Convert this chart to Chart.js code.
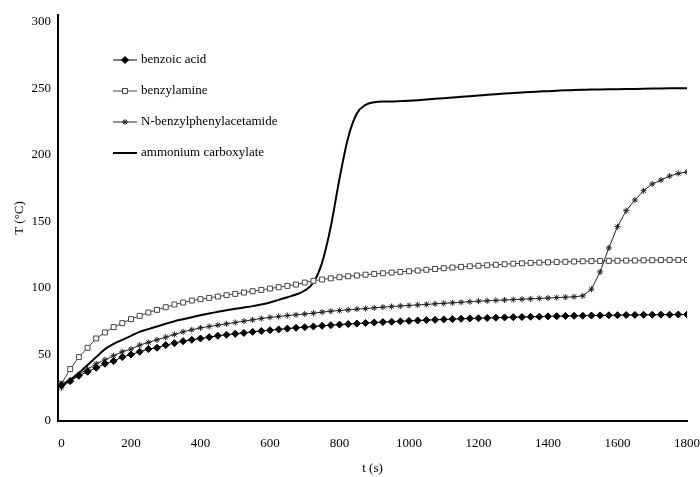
<!DOCTYPE html>
<html>
<head>
<meta charset="utf-8">
<script src="https://cdn.jsdelivr.net/npm/chart.js@4.4.0/dist/chart.umd.min.js"></script>
<style>
  html, body { margin: 0; padding: 0; background: #fff; }
  #wrap { width: 700px; height: 477px; position: relative; }
</style>
</head>
<body>
<div id="wrap"><canvas id="tempChart"></canvas></div>
<script>
// --- Data ---
const times = [
    0, 25, 50, 75, 100, 125, 150, 175,
    200, 225, 250, 275, 300, 325, 350, 375,
    400, 425, 450, 475, 500, 525, 550, 575,
    600, 625, 650, 675, 700, 725, 750, 775,
    800, 825, 850, 875, 900, 925, 950, 975,
    1000, 1025, 1050, 1075, 1100, 1125, 1150, 1175,
    1200, 1225, 1250, 1275, 1300, 1325, 1350, 1375,
    1400, 1425, 1450, 1475, 1500, 1525, 1550, 1575,
    1600, 1625, 1650, 1675, 1700, 1725, 1750, 1775,
    1800
];

const benzoicAcid = [
    27, 30, 34, 37, 40, 43, 45, 48,
    50, 52, 54, 55, 57, 58.5, 60, 61,
    62, 63, 64, 64.8, 65.5, 66.2, 67, 67.6,
    68.2, 68.8, 69.4, 70, 70.5, 71, 71.5, 72,
    72.4, 72.8, 73.2, 73.6, 74, 74.3, 74.6, 74.9,
    75.2, 75.5, 75.8, 76, 76.3, 76.5, 76.8, 77,
    77.2, 77.4, 77.6, 77.8, 78, 78.1, 78.3, 78.4,
    78.6, 78.7, 78.9, 79, 79.1, 79.2, 79.3, 79.4,
    79.5, 79.6, 79.7, 79.8, 79.8, 79.9, 79.9, 80,
    80
];

const benzylamine = [
    28, 39, 48, 55, 62, 66.5, 70.5, 73.5,
    76.5, 79, 81.5, 83.5, 85.5, 87.5, 89, 90.5,
    91.5, 92.5, 93.5, 94.5, 95.5, 96.5, 97.5, 98.5,
    99.5, 100.5, 101.5, 102.5, 104, 105.3, 106.3, 107.2,
    108, 108.7, 109.3, 109.9, 110.5, 111, 111.5, 112,
    112.5, 113, 113.6, 114.2, 114.8, 115.3, 115.8, 116.2,
    116.6, 117, 117.4, 117.8, 118.2, 118.5, 118.8, 119,
    119.2, 119.4, 119.6, 119.8, 120, 120.1, 120.2, 120.3,
    120.4, 120.5, 120.6, 120.7, 120.8, 120.9, 121, 121,
    121
];

const benzylphenylacetamide = [
    25, 30, 35, 39, 43, 46, 49, 52,
    54, 57, 59, 61, 63, 65, 67, 68.5,
    70, 71, 72, 73, 74, 75, 76, 77,
    77.8, 78.5, 79.2, 79.8, 80.4, 81, 81.8, 82.5,
    83, 83.5, 84, 84.5, 85, 85.5, 86, 86.4,
    86.8, 87.2, 87.6, 88, 88.4, 88.8, 89.2, 89.6,
    90, 90.3, 90.6, 90.9, 91.2, 91.5, 91.8, 92.1,
    92.4, 92.7, 93, 93.3, 94, 99, 112, 130,
    146, 158, 166, 173, 178, 181, 184, 186,
    187
];

const ammoniumCarboxylate = [
    27, 31, 36, 42, 48, 54, 58, 61,
    64, 67, 69, 71, 73, 75, 76.5, 78,
    79.5, 80.8, 82, 83.2, 84.3, 85.3, 86.3, 87.5,
    89, 91, 93, 95, 98, 104, 119, 146,
    182, 213, 231, 237.5, 239.5, 240, 240, 240.3,
    240.6, 241, 241.5, 242, 242.5, 243, 243.5, 244,
    244.5, 245, 245.5, 246, 246.4, 246.8, 247.2, 247.5,
    247.8, 248.1, 248.4, 248.6, 248.8, 249, 249.1, 249.2,
    249.3, 249.4, 249.5, 249.6, 249.7, 249.8, 249.9, 250,
    250
];

const seriesLabels = ['benzoic acid', 'benzylamine', 'N-benzylphenylacetamide', 'ammonium carboxylate'];
const xTickValues = [0, 200, 400, 600, 800, 1000, 1200, 1400, 1600, 1800];
const yTickValues = [0, 50, 100, 150, 200, 250, 300];

const serif = "'Liberation Serif', 'DejaVu Serif', serif";
const toPoints = (ys) => ys.map((y, i) => ({ x: times[i], y: y }));

// --- Legend drawn inside the plot, like the original ---
const insideLegend = {
    id: 'insideLegend',
    afterDraw(chart) {
        const ctx = chart.ctx;
        const rows = [60, 91, 122, 153];
        ctx.save();
        chart.data.datasets.forEach((ds, i) => {
            const y = rows[i];
            ctx.strokeStyle = ds.borderColor;
            ctx.lineWidth = ds.borderWidth;
            ctx.beginPath();
            ctx.moveTo(113, y);
            ctx.lineTo(137, y);
            ctx.stroke();
            if (ds.pointRadius > 0) {
                ctx.fillStyle = ds.pointBackgroundColor;
                ctx.strokeStyle = ds.pointBorderColor;
                ctx.lineWidth = 1;
                Chart.helpers.drawPoint(ctx, {
                    pointStyle: ds.pointStyle,
                    radius: ds.pointRadius,
                    borderWidth: 1,
                    rotation: 0
                }, 125, y);
            }
            ctx.fillStyle = '#000';
            ctx.font = '13px ' + serif;
            ctx.textBaseline = 'middle';
            ctx.textAlign = 'left';
            ctx.fillText(seriesLabels[i], 141, y);
        });
        ctx.restore();
    }
};

new Chart(document.getElementById('tempChart'), {
    type: 'line',
    data: {
        datasets: [
            {
                label: seriesLabels[0],
                data: toPoints(benzoicAcid),
                borderColor: '#000',
                borderWidth: 1,
                pointStyle: 'rectRot',
                pointRadius: 3.5,
                pointBackgroundColor: '#000',
                pointBorderColor: '#000'
            },
            {
                label: seriesLabels[1],
                data: toPoints(benzylamine),
                borderColor: '#444',
                borderWidth: 1,
                pointStyle: 'rect',
                pointRadius: 3.5,
                pointBackgroundColor: '#fff',
                pointBorderColor: '#444'
            },
            {
                label: seriesLabels[2],
                data: toPoints(benzylphenylacetamide),
                borderColor: '#222',
                borderWidth: 1,
                pointStyle: 'star',
                pointRadius: 3,
                pointBackgroundColor: '#222',
                pointBorderColor: '#222'
            },
            {
                label: seriesLabels[3],
                data: toPoints(ammoniumCarboxylate),
                borderColor: '#000',
                borderWidth: 2,
                pointRadius: 0,
                pointBackgroundColor: '#000',
                pointBorderColor: '#000',
                cubicInterpolationMode: 'monotone'
            }
        ]
    },
    options: {
        responsive: true,
        maintainAspectRatio: false,
        animation: false,
        layout: { padding: { top: 15, right: 13, left: 0, bottom: 0 } },
        plugins: {
            legend: { display: false },
            tooltip: { enabled: false }
        },
        scales: {
            x: {
                type: 'linear',
                min: -10,
                max: 1800,
                grid: { display: false, drawTicks: false },
                border: { display: true, color: '#000', width: 2 },
                ticks: {
                    maxRotation: 0,
                    autoSkip: false,
                    padding: 15,
                    color: '#000',
                    font: { family: serif, size: 13 },
                    callback: (v) => String(v)
                },
                afterBuildTicks(scale) {
                    scale.ticks = xTickValues.map(v => ({ value: v }));
                },
                title: {
                    display: true,
                    text: 't (s)',
                    color: '#000',
                    font: { family: serif, size: 13 },
                    padding: { top: 0, bottom: 1 }
                },
                afterFit(scale) {
                    scale.height = 56;
                    scale.paddingLeft = 0;
                    scale.paddingRight = 0;
                }
            },
            y: {
                min: 0,
                max: 305,
                grid: { display: false, drawTicks: false },
                border: { display: true, color: '#000', width: 2 },
                ticks: {
                    padding: 7,
                    color: '#000',
                    font: { family: serif, size: 13 },
                    callback: (v) => String(v)
                },
                afterBuildTicks(scale) {
                    scale.ticks = yTickValues.map(v => ({ value: v }));
                },
                title: {
                    display: true,
                    text: 'T (°C)',
                    color: '#000',
                    font: { family: serif, size: 13 },
                    padding: { top: 12, bottom: 0 }
                },
                afterFit(scale) {
                    scale.width = 58;
                    scale.paddingTop = 0;
                    scale.paddingBottom = 0;
                }
            }
        }
    },
    plugins: [insideLegend]
});
</script>
</body>
</html>
